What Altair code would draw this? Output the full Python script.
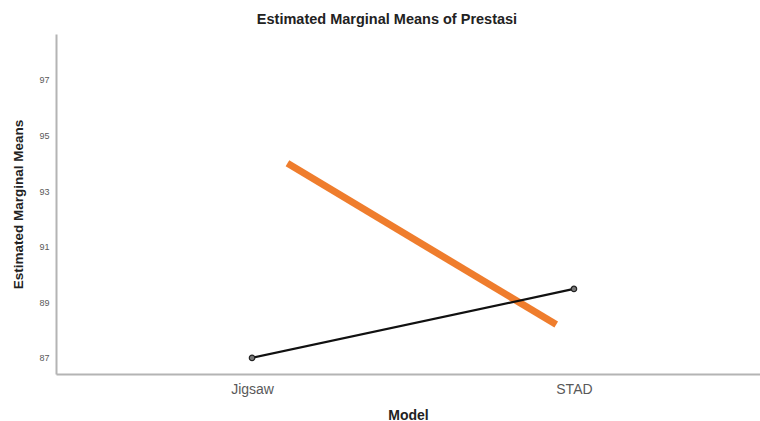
import altair as alt
import pandas as pd

# Data
models = ["Jigsaw", "STAD"]
model_pos = [0, 1]
black_means = [87.0, 89.48]
orange_pos = [0.11, 0.945]
orange_vals = [94.0, 88.2]
y_ticks = [87, 89, 91, 93, 95, 97]

black_df = pd.DataFrame({"x": model_pos, "y": black_means, "Model": models})
orange_df = pd.DataFrame({"x": orange_pos, "y": orange_vals})

xscale = alt.Scale(domain=[-0.609, 1.578], nice=False, zero=False)
yscale = alt.Scale(domain=[86.42, 98.65], nice=False, zero=False)

label_expr = "datum.value == 0 ? 'Jigsaw' : (datum.value == 1 ? 'STAD' : '')"

xaxis = alt.Axis(
    title="Model", values=model_pos, labelExpr=label_expr, grid=False, ticks=False,
    domainColor="#b4b4b4", domainWidth=2, labelColor="#595959", labelFontSize=14,
    labelFont="Liberation Sans", labelPadding=8, titleFont="Liberation Sans",
    titleFontSize=14, titleFontWeight="bold", titleColor="#222", titlePadding=12,
)
yaxis = alt.Axis(
    title="Estimated Marginal Means", values=y_ticks, grid=False, ticks=False,
    domainColor="#b4b4b4", domainWidth=2, labelColor="#595959", labelFontSize=9,
    labelFont="Liberation Sans", labelPadding=7, titleFont="Liberation Sans",
    titleFontSize=13.5, titleFontWeight="bold", titleColor="#222", titlePadding=13,
)

black_line = alt.Chart(black_df).mark_line(color="#111", strokeWidth=2.2).encode(
    x=alt.X("x:Q", scale=xscale, axis=xaxis),
    y=alt.Y("y:Q", scale=yscale, axis=yaxis),
)
black_pts = alt.Chart(black_df).mark_point(
    filled=True, fill="#777", stroke="#222", strokeWidth=1.2, size=30, opacity=1
).encode(x=alt.X("x:Q", scale=xscale), y=alt.Y("y:Q", scale=yscale))

orange_line = alt.Chart(orange_df).mark_line(
    color="#ef7d2d", strokeWidth=7, strokeCap="butt"
).encode(x=alt.X("x:Q", scale=xscale), y=alt.Y("y:Q", scale=yscale))

chart = (
    alt.layer(orange_line, black_line, black_pts)
    .properties(
        width=704, height=340,
        autosize=alt.AutoSizeParams(type="none"),
        padding={"left": 56, "top": 34, "right": 0, "bottom": 47},
        view=alt.ViewBackground(strokeOpacity=0, strokeWidth=0),
        title=alt.Title(
            "Estimated Marginal Means of Prestasi", font="Liberation Sans",
            fontSize=14.5, fontWeight="bold", color="#222", dx=-21, offset=7,
        ),
    )
    .configure_view(strokeOpacity=0, strokeWidth=0)
    .configure(background="white")
)

chart.save("out.html", embed_options={"renderer": "svg", "actions": False})
